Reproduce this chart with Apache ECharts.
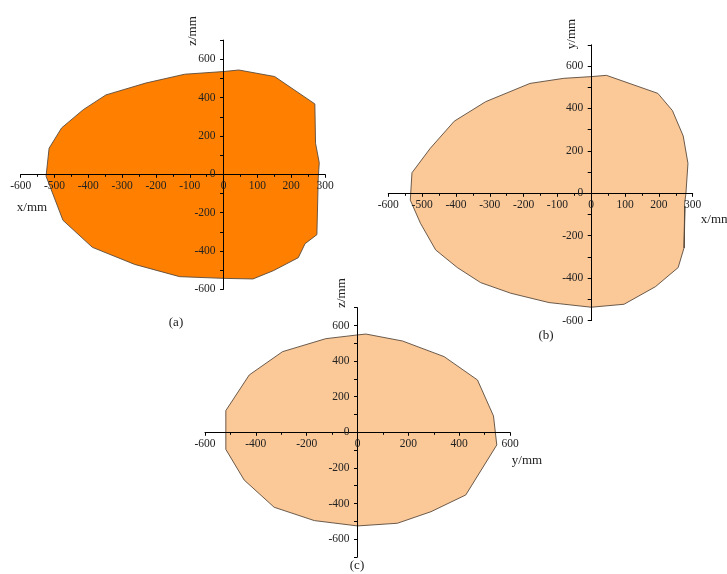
<!DOCTYPE html>
<html>
<head>
<meta charset="utf-8">
<script src="https://cdn.jsdelivr.net/npm/echarts@6/dist/echarts.min.js"></script>
<style>
  html, body { margin: 0; padding: 0; background: #fff; }
  #chart { width: 727px; height: 574px; }
</style>
</head>
<body>
<div id="chart"></div>
<script>
// Outline of the section in the x–z plane (x, z in mm)
const sectionXZ = [
  [0, 536], [45, 544], [151, 510], [270, 367], [272, 162], [283, 60], [280, -20],
  [276, -315], [241, -362], [221, -435], [147, -503], [87, -546], [0, -543],
  [-130, -534], [-263, -470], [-388, -381], [-475, -240], [-525, -10], [-516, 136],
  [-479, 242], [-415, 337], [-348, 414], [-230, 476], [-115, 522]
];

// Outline in the x–y plane (x, y in mm)
const sectionXY = [
  [0, 550], [45, 556], [197, 471], [240, 390], [272, 270], [286, 141], [280, 0],
  [276, -50], [275, -258], [277, -60], [274, -259], [257, -350], [190, -440],
  [97, -523], [0, -537], [-125, -515], [-238, -471], [-327, -421], [-396, -350],
  [-460, -267], [-505, -141], [-535, -32], [-530, 97], [-476, 212], [-405, 340],
  [-312, 432], [-181, 518], [-81, 542]
];

// Outline in the y–z plane (y, z in mm)
const sectionYZ = [
  [0, 547], [33, 552], [177, 513], [341, 425], [472, 294], [535, 92], [548, -71],
  [426, -352], [289, -446], [157, -511], [0, -526], [-170, -496], [-328, -421],
  [-446, -268], [-518, -96], [-518, 122], [-426, 322], [-295, 453], [-125, 526]
];

// Axis ranges and tick steps
const xRangeA = [-600, 300], yRangeA = [-600, 700];
const xRangeB = [-600, 300], yRangeB = [-600, 700];
const xRangeC = [-600, 600], yRangeC = [-700, 700];
const xStepAB = 100, xStepC = 200, yStep = 100, yLabelStep = 200;

// Panel captions and axis names
const panelCaptions = ['(a)', '(b)', '(c)'];
const axisNames = {
  a: ['x/mm', 'z/mm'],
  b: ['x/mm', 'y/mm'],
  c: ['y/mm', 'z/mm']
};

// Plot panels (pixel boxes)
const grids = [
  { left: 20.7, top: 40.1, width: 304.3, height: 249.2 },
  { left: 388.3, top: 44.8, width: 304.4, height: 275.8 },
  { left: 205, top: 307.7, width: 305, height: 249.2 }
];

const SERIF = '"Liberation Serif", "DejaVu Serif", serif';
const labelStyle = { fontFamily: SERIF, fontSize: 11.5, color: '#222' };

// Distance from a panel's edge to where the other axis crosses zero
function zeroShift(range, size) {
  return (0 - range[0]) / (range[1] - range[0]) * size;
}

function xAxisCfg(gridIndex, range, step, yRange) {
  return {
    type: 'value', gridIndex, min: range[0], max: range[1], interval: step, z: 10,
    position: 'bottom',
    offset: -zeroShift(yRange, grids[gridIndex].height),
    axisLine: { onZero: false, lineStyle: { color: '#000', width: 1 } },
    axisTick: { show: true, length: 3.5, lineStyle: { color: '#000' } },
    minorTick: { show: true, splitNumber: 2, length: 2.5, lineStyle: { color: '#000' } },
    splitLine: { show: false },
    minorSplitLine: { show: false },
    axisLabel: Object.assign({ margin: 6 }, labelStyle)
  };
}

function yAxisCfg(gridIndex, range, xRange) {
  return {
    type: 'value', gridIndex, min: range[0], max: range[1], interval: yStep, z: 10,
    position: 'left',
    offset: -zeroShift(xRange, grids[gridIndex].width),
    axisLine: { onZero: false, lineStyle: { color: '#000', width: 1 } },
    axisTick: { show: true, length: 3.5, lineStyle: { color: '#000' } },
    splitLine: { show: false },
    axisLabel: Object.assign({
      margin: 8,
      formatter: v => (v % yLabelStep === 0 ? String(v) : '')
    }, labelStyle)
  };
}

function outlineSeries(points, axisIndex, fill) {
  return {
    type: 'custom',
    coordinateSystem: 'cartesian2d',
    xAxisIndex: axisIndex,
    yAxisIndex: axisIndex,
    data: points,
    clip: false,
    z: 2,
    renderItem(params, api) {
      if (params.dataIndex !== 0) return null;
      const pts = points.map(p => api.coord(p));
      return {
        type: 'polygon',
        shape: { points: pts },
        style: { fill: fill, stroke: '#5a4b3c', lineWidth: 0.9 }
      };
    }
  };
}

function caption(text, x, y, rotated, size) {
  return {
    type: 'text', x, y, rotation: rotated ? Math.PI / 2 : 0,
    style: {
      text, fill: '#222', font: (size || 13) + 'px ' + SERIF,
      align: 'center', verticalAlign: 'middle'
    }
  };
}

const chart = echarts.init(document.getElementById('chart'), null, { renderer: 'canvas' });

chart.setOption({
  backgroundColor: '#fff',
  animation: false,
  grid: grids,
  xAxis: [
    xAxisCfg(0, xRangeA, xStepAB, yRangeA),
    xAxisCfg(1, xRangeB, xStepAB, yRangeB),
    xAxisCfg(2, xRangeC, xStepC, yRangeC)
  ],
  yAxis: [
    yAxisCfg(0, yRangeA, xRangeA),
    yAxisCfg(1, yRangeB, xRangeB),
    yAxisCfg(2, yRangeC, xRangeC)
  ],
  series: [
    outlineSeries(sectionXZ, 0, '#ff8000'),
    outlineSeries(sectionXY, 1, '#fbc898'),
    outlineSeries(sectionYZ, 2, '#fbc898')
  ],
  graphic: [
    caption(axisNames.a[0], 32, 208),
    caption(axisNames.a[1], 193, 31, true),
    caption(panelCaptions[0], 176, 323),
    caption(axisNames.b[0], 716, 220),
    caption(axisNames.b[1], 572, 34, true),
    caption(panelCaptions[1], 546, 336),
    caption(axisNames.c[0], 527, 461),
    caption(axisNames.c[1], 342, 293, true),
    caption(panelCaptions[2], 357, 566)
  ]
});
</script>
</body>
</html>
